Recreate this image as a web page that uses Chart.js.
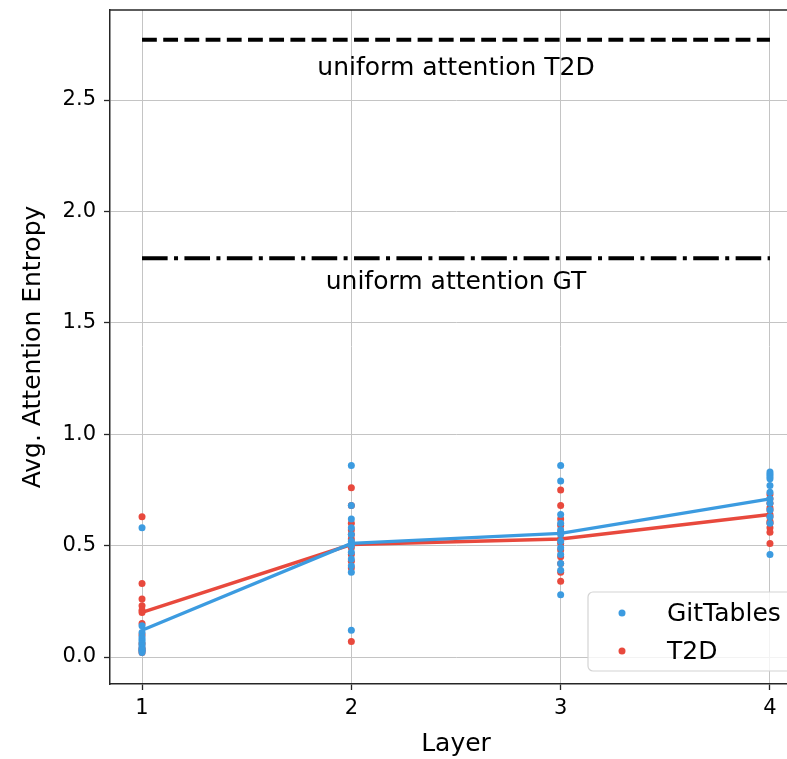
<!DOCTYPE html>
<html><head><meta charset="utf-8">
<script src="https://cdn.jsdelivr.net/npm/chart.js@4"></script>
<style>html,body{margin:0;padding:0;overflow:hidden;background:#fff;width:787px;height:759px}canvas{display:block}</style>
</head><body><canvas id="c" width="820" height="759"></canvas>
<script>
// ---- data ----
const layers = [1, 2, 3, 4];
const seriesNames = ['GitTables', 'T2D'];
// per-layer point values (one inner list per layer)
const gitTablesPoints = [
  [0.58, 0.14, 0.11, 0.09, 0.08, 0.07, 0.06, 0.05, 0.04, 0.03, 0.03, 0.02],
  [0.86, 0.68, 0.62, 0.58, 0.55, 0.52, 0.50, 0.47, 0.44, 0.41, 0.38, 0.12],
  [0.86, 0.79, 0.64, 0.60, 0.57, 0.55, 0.52, 0.49, 0.46, 0.42, 0.39, 0.28],
  [0.83, 0.82, 0.81, 0.80, 0.77, 0.74, 0.71, 0.69, 0.66, 0.63, 0.60, 0.46]
];
const t2dPoints = [
  [0.63, 0.33, 0.26, 0.23, 0.21, 0.20, 0.15, 0.10, 0.06, 0.04, 0.03, 0.02],
  [0.76, 0.68, 0.60, 0.57, 0.55, 0.53, 0.51, 0.49, 0.46, 0.43, 0.40, 0.07],
  [0.75, 0.68, 0.62, 0.59, 0.56, 0.53, 0.51, 0.48, 0.45, 0.42, 0.38, 0.34],
  [0.73, 0.71, 0.69, 0.67, 0.66, 0.64, 0.63, 0.61, 0.60, 0.58, 0.56, 0.51]
];
const gitTablesMean = [0.12, 0.51, 0.555, 0.71];
const t2dMean = [0.20, 0.505, 0.53, 0.64];
const uniformT2D = 2.77;
const uniformGT = 1.79;
const refLabels = ['uniform attention T2D', 'uniform attention GT'];
const refLabelValues = [2.64, 1.68];
const yTicks = [0.0, 0.5, 1.0, 1.5, 2.0, 2.5];
const axisTitles = ['Layer', 'Avg. Attention Entropy'];

// ---- styles ----
const BLUE = '#3c9be0';
const RED = '#e8493d';
const FONT = "'DejaVu Sans', sans-serif";

const toPts = (arr) => layers.flatMap((L, i) => arr[i].map(v => ({x: L, y: v})));
const toLine = (arr) => layers.map((L, i) => ({x: L, y: arr[i]}));
const hline = (v) => [{x: layers[0], y: v}, {x: layers[layers.length - 1], y: v}];

const datasets = [
  {label: seriesNames[0], data: toPts(gitTablesPoints), backgroundColor: BLUE, borderColor: BLUE, pointRadius: 3.5, pointBorderWidth: 0, showLine: false},
  {label: seriesNames[0] + ' mean', data: toLine(gitTablesMean), borderColor: BLUE, borderWidth: 3.4, pointRadius: 0, showLine: true},
  {label: seriesNames[1], data: toPts(t2dPoints), backgroundColor: RED, borderColor: RED, pointRadius: 3.5, pointBorderWidth: 0, showLine: false},
  {label: seriesNames[1] + ' mean', data: toLine(t2dMean), borderColor: RED, borderWidth: 3.4, pointRadius: 0, showLine: true},
  {label: 'uT2D', data: hline(uniformT2D), borderColor: '#000', borderWidth: 4, borderDash: [14.8, 6.4], borderCapStyle: 'butt', pointRadius: 0, showLine: true},
  {label: 'uGT', data: hline(uniformGT), borderColor: '#000', borderWidth: 4, borderDash: [25.6, 6.4, 4, 6.4], borderCapStyle: 'butt', pointRadius: 0, showLine: true}
];

const extras = {
  id: 'extras',
  afterDatasetsDraw(chart) {
    const {ctx, chartArea: a, scales: {x, y}} = chart;
    ctx.save();
    // annotations
    ctx.fillStyle = '#000';
    ctx.font = '25px ' + FONT;
    ctx.textAlign = 'center';
    ctx.textBaseline = 'middle';
    const cx = x.getPixelForValue((layers[0] + layers[layers.length - 1]) / 2);
    refLabels.forEach((t, i) => ctx.fillText(t, cx, y.getPixelForValue(refLabelValues[i])));
    // top spine
    ctx.strokeStyle = '#262626';
    ctx.lineWidth = 1.5;
    ctx.beginPath();
    ctx.moveTo(a.left - 0.75, a.top);
    ctx.lineTo(a.right, a.top);
    ctx.stroke();
    // legend
    const bx = 588, by = 592, bw = 230, bh = 79, r = 5;
    ctx.fillStyle = 'rgba(255,255,255,0.8)';
    ctx.strokeStyle = '#d4d4d4';
    ctx.lineWidth = 1.2;
    ctx.beginPath();
    ctx.moveTo(bx + r, by);
    ctx.lineTo(bx + bw - r, by);
    ctx.arcTo(bx + bw, by, bx + bw, by + r, r);
    ctx.lineTo(bx + bw, by + bh - r);
    ctx.arcTo(bx + bw, by + bh, bx + bw - r, by + bh, r);
    ctx.lineTo(bx + r, by + bh);
    ctx.arcTo(bx, by + bh, bx, by + bh - r, r);
    ctx.lineTo(bx, by + r);
    ctx.arcTo(bx, by, bx + r, by, r);
    ctx.closePath();
    ctx.fill();
    ctx.stroke();
    const items = [[seriesNames[0], BLUE, 613], [seriesNames[1], RED, 651]];
    ctx.font = '25px ' + FONT;
    ctx.textAlign = 'left';
    ctx.textBaseline = 'middle';
    items.forEach(([t, c, yy]) => {
      ctx.fillStyle = c;
      ctx.beginPath();
      ctx.arc(622, yy, 3.5, 0, Math.PI * 2);
      ctx.fill();
      ctx.fillStyle = '#000';
      ctx.fillText(t, 667, yy + 1);
    });
    ctx.restore();
  }
};

new Chart(document.getElementById('c'), {
  type: 'scatter',
  data: {datasets},
  options: {
    responsive: false,
    animation: false,
    devicePixelRatio: 1,
    layout: {padding: {top: 10, right: 18, left: 0, bottom: 0}},
    plugins: {legend: {display: false}, tooltip: {enabled: false}},
    scales: {
      x: {
        type: 'linear', min: 0.847, max: 4.153,
        afterBuildTicks: (s) => { s.ticks = layers.map(v => ({value: v})); },
        afterFit: (s) => { s.height = 75; s.paddingLeft = 0; s.paddingRight = 0; },
        grid: {color: '#c4c4c4', lineWidth: 1, tickLength: 6, tickColor: '#262626', tickWidth: 1.3},
        border: {color: '#262626', width: 1.5},
        ticks: {font: {family: FONT, size: 21}, color: '#000', padding: 6, callback: v => String(v)},
        title: {display: true, text: axisTitles[0], font: {family: FONT, size: 25}, color: '#000', padding: {top: 0, bottom: 0}}
      },
      y: {
        type: 'linear', min: -0.121, max: 2.904,
        afterBuildTicks: (s) => { s.ticks = yTicks.map(v => ({value: v})); },
        afterFit: (s) => { s.width = 110; s.paddingTop = 0; s.paddingBottom = 0; },
        grid: {color: '#c4c4c4', lineWidth: 1, tickLength: 6, tickColor: '#262626', tickWidth: 1.3},
        border: {color: '#262626', width: 1.5},
        ticks: {font: {family: FONT, size: 21}, color: '#000', padding: 8, callback: v => v.toFixed(1)},
        title: {display: true, text: axisTitles[1], font: {family: FONT, size: 25}, color: '#000', padding: {top: 18, bottom: 0}}
      }
    }
  },
  plugins: [extras]
});
</script>
</body></html>
